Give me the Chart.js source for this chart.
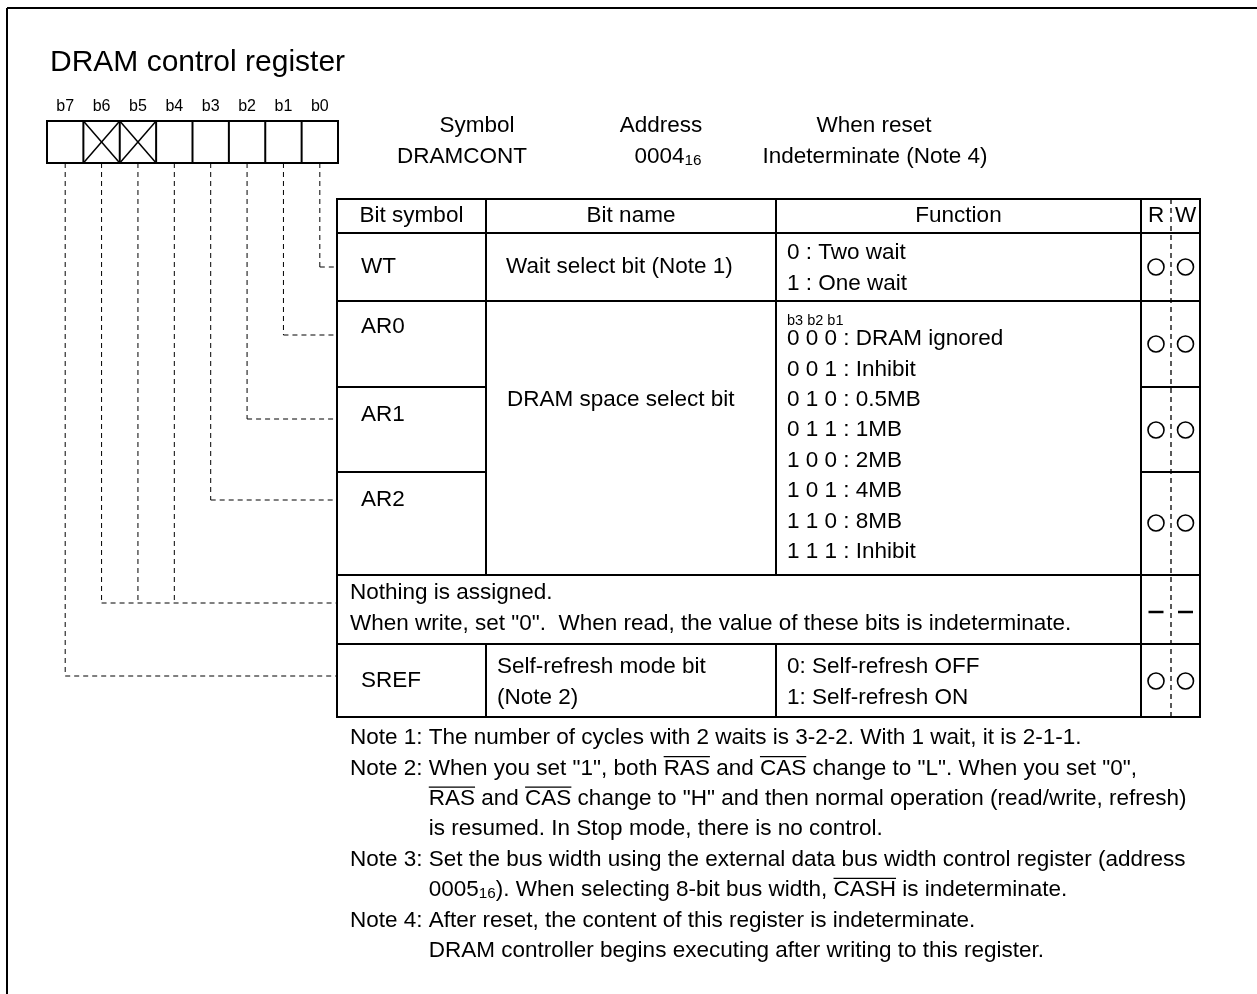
<!DOCTYPE html>
<html>
<head>
<meta charset="utf-8">
<script src="https://cdn.jsdelivr.net/npm/chart.js@4.4.0/dist/chart.umd.min.js"></script>
<style>
  html, body { margin: 0; padding: 0; background: #fff; overflow: hidden; }
  canvas { display: block; }
</style>
</head>
<body>
<canvas id="regChart" width="1257" height="994"></canvas>
<script>
// ---- content ----
const title = 'DRAM control register';
const bitLabels = ['b7', 'b6', 'b5', 'b4', 'b3', 'b2', 'b1', 'b0'];
const unusedBits = ['b6', 'b5'];
const infoHeads = ['Symbol', 'Address', 'When reset'];
const infoValues = ['DRAMCONT', '0004{s:16}', 'Indeterminate (Note 4)'];
const columnHeads = ['Bit symbol', 'Bit name', 'Function', 'R', 'W'];
const bitSymbols = ['WT', 'AR0', 'AR1', 'AR2', 'SREF'];
const symbolBits = ['b0', 'b1', 'b2', 'b3', 'b7'];
const emptyBits = ['b4', 'b5', 'b6'];
const waitName = ['Wait select bit (Note 1)'];
const waitFunction = ['0 : Two wait', '1 : One wait'];
const spaceName = ['DRAM space select bit'];
const spaceBitsHead = 'b3 b2 b1';
const spaceFunction = [
  '0 0 0 : DRAM ignored', '0 0 1 : Inhibit', '0 1 0 : 0.5MB', '0 1 1 : 1MB',
  '1 0 0 : 2MB', '1 0 1 : 4MB', '1 1 0 : 8MB', '1 1 1 : Inhibit'
];
const emptyText = ['Nothing is assigned.', 'When write, set "0".  When read, the value of these bits is indeterminate.'];
const refreshName = ['Self-refresh mode bit', '(Note 2)'];
const refreshFunction = ['0: Self-refresh OFF', '1: Self-refresh ON'];
const readAccess = ['O', 'O', 'O', 'O', 'O'];
const writeAccess = ['O', 'O', 'O', 'O', 'O'];
const emptyAccess = ['-', '-'];
const notes = [
  ['Note 1: ', 'The number of cycles with 2 waits is 3-2-2. With 1 wait, it is 2-1-1.'],
  ['Note 2: ', 'When you set "1", both {o:RAS} and {o:CAS} change to "L". When you set "0",'],
  ['', '{o:RAS} and {o:CAS} change to "H" and then normal operation (read/write, refresh)'],
  ['', 'is resumed. In Stop mode, there is no control.'],
  ['Note 3: ', 'Set the bus width using the external data bus width control register (address'],
  ['', '0005{s:16}). When selecting 8-bit bus width, {o:CASH} is indeterminate.'],
  ['Note 4: ', 'After reset, the content of this register is indeterminate.'],
  ['', 'DRAM controller begins executing after writing to this register.']
];

// ---- layout ----
const FONT = '"Liberation Sans", Arial, sans-serif';
const BODY = 22.5;
const regLeft = 47, regRight = 338, regTop = 121, regBottom = 163;
const colX = [337, 486, 776, 1141, 1171, 1200];
const rowY = [199, 233, 301, 387, 472, 575, 644, 717];
const symbolTextY = [267, 327, 415, 500, 681];
const leaderY = [267, 335, 419, 500, 676];
const accessY = [267, 344, 430, 523, 681];
const emptyLeaderY = 603;
const lineStep = 30.4;

function splitRich(text) {
  const parts = [];
  const re = /\{(o|s):([^}]*)\}/g;
  let last = 0, m;
  while ((m = re.exec(text)) !== null) {
    if (m.index > last) parts.push({ type: 'n', text: text.slice(last, m.index) });
    parts.push({ type: m[1], text: m[2] });
    last = re.lastIndex;
  }
  if (last < text.length) parts.push({ type: 'n', text: text.slice(last) });
  return parts;
}

function richWidth(ctx, text, size) {
  let w = 0;
  splitRich(text).forEach(p => {
    ctx.font = (p.type === 's' ? size * 0.68 : size) + 'px ' + FONT;
    w += ctx.measureText(p.text).width;
  });
  return w;
}

function drawRich(ctx, text, x, y, size, align) {
  if (align === 'center') x -= richWidth(ctx, text, size) / 2;
  ctx.textAlign = 'left';
  ctx.textBaseline = 'middle';
  splitRich(text).forEach(p => {
    const sz = p.type === 's' ? size * 0.68 : size;
    ctx.font = sz + 'px ' + FONT;
    const w = ctx.measureText(p.text).width;
    ctx.fillText(p.text, x, p.type === 's' ? y + size * 0.17 : y);
    if (p.type === 'o') {
      ctx.beginPath();
      ctx.lineWidth = 1.2;
      ctx.setLineDash([]);
      ctx.moveTo(x, y - size * 0.52);
      ctx.lineTo(x + w, y - size * 0.52);
      ctx.stroke();
    }
    x += w;
  });
}

const registerPlugin = {
  id: 'registerDiagram',
  afterDraw(chart) {
    const ctx = chart.ctx;
    const X = v => chart.scales.x.getPixelForValue(v);
    const Y = v => chart.scales.y.getPixelForValue(v);
    const line = (x1, y1, x2, y2, w, dash) => {
      ctx.beginPath();
      ctx.lineWidth = w;
      ctx.setLineDash(dash || []);
      ctx.moveTo(X(x1), Y(y1));
      ctx.lineTo(X(x2), Y(y2));
      ctx.stroke();
    };
    const text = (t, x, y, size, align) => drawRich(ctx, t, X(x), Y(y), size, align);
    ctx.save();
    ctx.strokeStyle = '#000';
    ctx.fillStyle = '#000';
    ctx.lineCap = 'butt';

    // frame
    line(7, 8, 1257, 8, 2);
    line(7, 8, 7, 994, 2);

    text(title, 50, 63, 30, 'left');

    // register boxes
    const cellW = (regRight - regLeft) / bitLabels.length;
    const cellCenter = b => regLeft + cellW * (bitLabels.indexOf(b) + 0.5);
    bitLabels.forEach((b, i) => {
      text(b, cellCenter(b), 107, 16, 'center');
      line(regLeft + cellW * i, regTop, regLeft + cellW * i, regBottom, 2);
    });
    line(regRight, regTop, regRight, regBottom, 2);
    line(regLeft - 1, regTop, regRight + 1, regTop, 2);
    line(regLeft - 1, regBottom, regRight + 1, regBottom, 2);
    unusedBits.forEach(b => {
      const x0 = regLeft + cellW * bitLabels.indexOf(b);
      line(x0, regTop, x0 + cellW, regBottom, 1.5);
      line(x0, regBottom, x0 + cellW, regTop, 1.5);
    });

    // symbol / address / reset
    const infoX = [[477, 462], [661, 668], [874, 875]];
    infoHeads.forEach((h, i) => {
      text(h, infoX[i][0], 126, BODY, 'center');
      text(infoValues[i], infoX[i][1], 157, BODY, 'center');
    });

    // leader lines
    const dash = [5, 4];
    symbolBits.forEach((b, i) => {
      line(cellCenter(b), regBottom, cellCenter(b), leaderY[i], 1, dash);
      line(cellCenter(b), leaderY[i], colX[0], leaderY[i], 1, dash);
    });
    emptyBits.forEach(b => line(cellCenter(b), regBottom, cellCenter(b), emptyLeaderY, 1, dash));
    line(cellCenter(emptyBits[emptyBits.length - 1]), emptyLeaderY, colX[0], emptyLeaderY, 1, dash);

    // table grid
    const top = rowY[0], bot = rowY[rowY.length - 1];
    [0, 3, 5].forEach(c => line(colX[c], top - 1, colX[c], bot + 1, 2));
    [1, 2].forEach(c => {
      line(colX[c], rowY[0], colX[c], rowY[5], 2);
      line(colX[c], rowY[6], colX[c], rowY[7], 2);
    });
    line(colX[4], top, colX[4], bot, 1.3, [5, 4]);
    [0, 1, 2, 5, 6, 7].forEach(r => line(colX[0], rowY[r], colX[5], rowY[r], 2));
    [3, 4].forEach(r => {
      line(colX[0], rowY[r], colX[1], rowY[r], 2);
      line(colX[3], rowY[r], colX[5], rowY[r], 2);
    });

    // header
    const headY = 216;
    columnHeads.forEach((h, i) => {
      text(h, (colX[i] + colX[i + 1]) / 2, headY, BODY, 'center');
    });

    // rows
    bitSymbols.forEach((s, i) => text(s, 361, symbolTextY[i], BODY, 'left'));
    const fnX = 787;
    text(waitName[0], 506, 267, BODY, 'left');
    waitFunction.forEach((t, i) => text(t, fnX, 253 + i * lineStep, BODY, 'left'));
    text(spaceName[0], 507, 400, BODY, 'left');
    text(spaceBitsHead, fnX, 321, 14.5, 'left');
    spaceFunction.forEach((t, i) => text(t, fnX, 339 + i * lineStep, BODY, 'left'));
    emptyText.forEach((t, i) => text(t, 350, 593 + i * lineStep, BODY, 'left'));
    refreshName.forEach((t, i) => text(t, 497, 667 + i * lineStep, BODY, 'left'));
    refreshFunction.forEach((t, i) => text(t, fnX, 667 + i * lineStep, BODY, 'left'));

    // R / W marks
    const rX = (colX[3] + colX[4]) / 2, wX = (colX[4] + colX[5]) / 2;
    const mark = (m, x, y) => {
      ctx.setLineDash([]);
      ctx.lineWidth = m === 'O' ? 1.6 : 2.5;
      ctx.beginPath();
      if (m === 'O') {
        ctx.arc(X(x), Y(y), 8, 0, Math.PI * 2);
      } else {
        ctx.moveTo(X(x) - 7.5, Y(y));
        ctx.lineTo(X(x) + 7.5, Y(y));
      }
      ctx.stroke();
    };
    accessY.forEach((y, i) => {
      mark(readAccess[i], rX, y);
      mark(writeAccess[i], wX, y);
    });
    mark(emptyAccess[0], rX, 612);
    mark(emptyAccess[1], wX, 612);

    // notes
    ctx.font = BODY + 'px ' + FONT;
    const indent = ctx.measureText('Note 2: ').width;
    notes.forEach((n, i) => {
      const y = 738 + i * lineStep;
      if (n[0]) text(n[0], 350, y, BODY, 'left');
      text(n[1], 350 + indent, y, BODY, 'left');
    });

    ctx.restore();
  }
};

new Chart(document.getElementById('regChart'), {
  type: 'scatter',
  data: { datasets: [] },
  options: {
    responsive: false,
    animation: false,
    layout: { padding: 0 },
    plugins: { legend: { display: false }, tooltip: { enabled: false } },
    scales: {
      x: { type: 'linear', min: 0, max: 1257, display: false },
      y: { type: 'linear', min: 0, max: 994, reverse: true, display: false }
    }
  },
  plugins: [registerPlugin]
});
</script>
</body>
</html>
